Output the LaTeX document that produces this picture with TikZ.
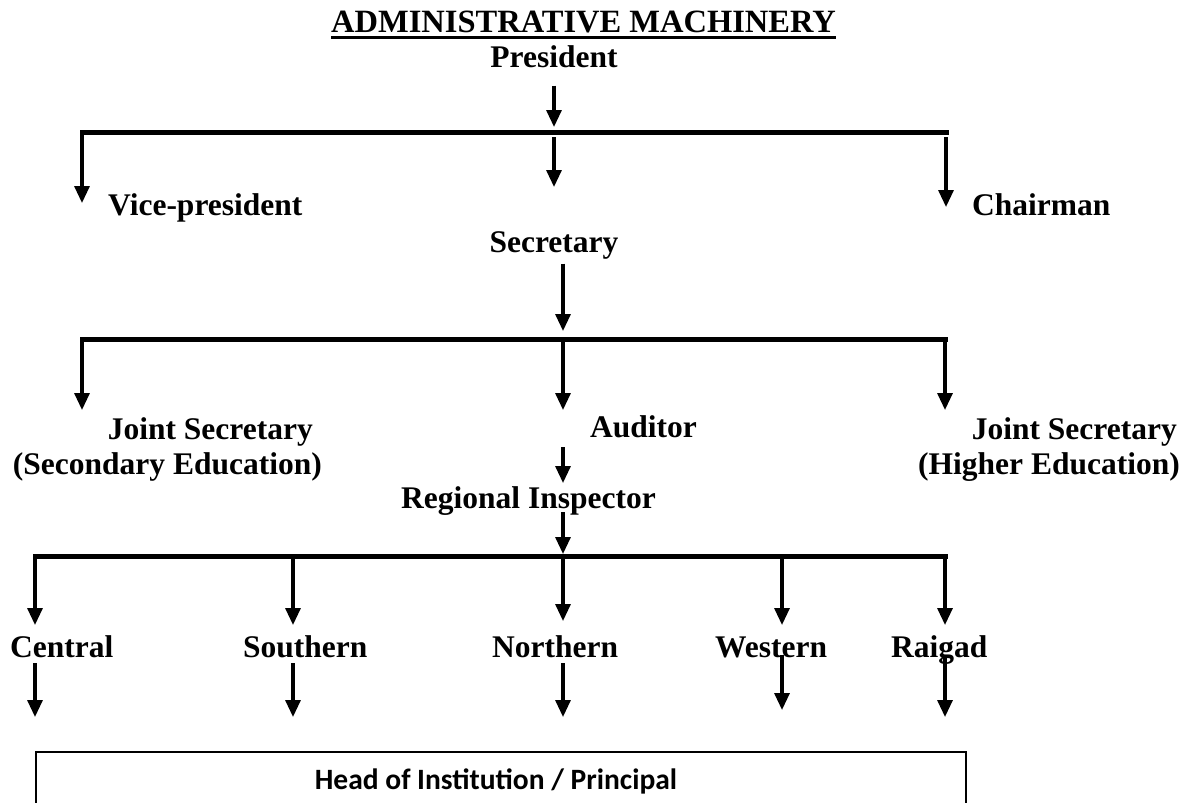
\documentclass[tikz,border=0pt]{standalone}
\usepackage{fontspec}
\setmainfont{Liberation Serif}
\newfontfamily\carlito{Carlito}
\usetikzlibrary{arrows.meta}
\begin{document}
\begin{tikzpicture}[x=1pt,y=-1pt,
  lbl/.style={inner sep=0pt, font=\fontsize{31.5}{35}\selectfont\bfseries},
  arr/.style={line width=3.2pt, -{Triangle[width=15pt,length=17pt]}},
  barline/.style={line width=5pt, line cap=rect}]
\useasboundingbox (0,0) rectangle (1192,803);
\fill[white] (0,0) rectangle (1192,803);

% title
\node[lbl, font=\fontsize{32.5}{36}\selectfont\bfseries, anchor=base west] (title) at (331,32) {ADMINISTRATIVE MACHINERY};
\draw[line width=2.7pt] ([yshift=-5.5pt]title.base west) -- ([yshift=-5.5pt]title.base east);

% level 1
\node[lbl, anchor=base] (pres) at (554,67) {President};
\node[lbl, anchor=base west] (vp) at (108,215) {Vice-president};
\node[lbl, anchor=base west] (chair) at (972,215) {Chairman};
\node[lbl, anchor=base] (sec) at (554,252) {Secretary};

\coordinate (b1m) at (554,132);
\coordinate (b1l) at (82,132);
\coordinate (b1r) at (946,132);
\coordinate (vpTip) at (82,203);
\coordinate (secTip) at (554,187);
\coordinate (chTip) at (946,207);

\draw[arr] ([yshift=-18pt]pres.south) -- ([yshift=5pt]b1m);
\draw[barline] (b1l) -- (b1r);
\draw[arr] (b1l) -- (vpTip);
\draw[arr] ([yshift=-5pt]b1m) -- (secTip);
\draw[arr] ([yshift=-5pt]b1r) -- (chTip);

% level 2
\coordinate (b2m) at (563,339);
\coordinate (b2l) at (82,339);
\coordinate (b2r) at (945,339);
\coordinate (jsTipL) at (82,410);
\coordinate (audTip) at (563,410);
\coordinate (jsTipR) at (945,410);

\node[lbl, anchor=base east, align=right] (jsl) at (322,474) {Joint Secretary\kern9pt\\(Secondary Education)};
\node[lbl, anchor=base west] (aud) at (590,437) {Auditor};
\node[lbl, anchor=base east, align=right] (jsr) at (1180,474) {Joint Secretary\kern3pt\\(Higher Education)};
\node[lbl, anchor=base west] (ri) at (401,508) {Regional Inspector};

\draw[arr] ([yshift=-4.5pt]sec.south -| b2m) -- ([yshift=8pt]b2m);
\draw[barline] (b2l) -- (b2r);
\draw[arr] (b2l) -- (jsTipL);
\draw[arr] (b2m) -- (audTip);
\draw[arr] (b2r) -- (jsTipR);

% auditor -> regional inspector
\coordinate (riTip) at (563,483);
\draw[arr] ([yshift=-10pt]aud.base -| b2m) -- (riTip);

% level 3
\coordinate (b3m) at (563,556);
\coordinate (b3a) at (35,556);
\coordinate (b3b) at (293,556);
\coordinate (b3d) at (782,556);
\coordinate (b3e) at (945,556);
\coordinate (tA) at (35,625);
\coordinate (tB) at (293,625);
\coordinate (tC) at (563,621);
\coordinate (tD) at (782,625);
\coordinate (tE) at (945,625);

\draw[arr] ([yshift=-4pt]ri.base -| b3m) -- ([yshift=2pt]b3m);
\draw[barline] (b3a) -- (b3e);
\draw[arr] (b3a) -- (tA);
\draw[arr] (b3b) -- (tB);
\draw[arr] (b3m) -- (tC);
\draw[arr] (b3d) -- (tD);
\draw[arr] (b3e) -- (tE);

\node[lbl, anchor=base west] (cen) at (10,657) {Central};
\node[lbl, anchor=base west] (sou) at (243,657) {Southern};
\node[lbl, anchor=base west] (nor) at (492,657) {Northern};
\node[lbl, anchor=base west] (wes) at (715,657) {Western};
\node[lbl, anchor=base west] (rai) at (891,657) {Raigad};

% box
\node[draw, line width=2.2pt, minimum width=930pt, minimum height=76pt, inner sep=0pt,
      anchor=north west] (box) at (35,751) {};
\node[inner sep=0pt, anchor=base, font=\fontsize{29.5}{33}\selectfont\carlito\bfseries] (boxtxt) at (496,789) {Head of Institution / Principal};

\coordinate (uA) at (35,717);
\coordinate (uB) at (293,717);
\coordinate (uC) at (563,717);
\coordinate (uD) at (782,710);
\coordinate (uE) at (945,717);
\draw[arr] ([yshift=-6pt]cen.base -| tA) -- (uA);
\draw[arr] ([yshift=-6pt]sou.base -| tB) -- (uB);
\draw[arr] ([yshift=-6pt]nor.base -| tC) -- (uC);
\draw[arr] ([yshift=2pt]wes.base -| tD) -- (uD);
\draw[arr] ([yshift=0pt]rai.base -| tE) -- (uE);
\end{tikzpicture}
\end{document}
